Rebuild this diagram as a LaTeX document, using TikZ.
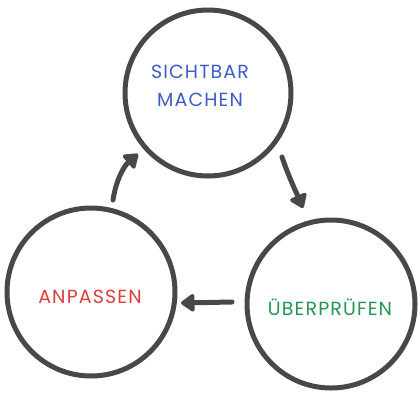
\documentclass[tikz,border=0pt]{standalone}
\usepackage{fontspec}
\setmainfont{Poppins}[LetterSpace=6]
\usetikzlibrary{arrows.meta}
\definecolor{ring}{RGB}{72,72,72}
\definecolor{tblue}{RGB}{62,92,200}
\definecolor{tred}{RGB}{222,62,62}
\definecolor{tgreen}{RGB}{34,150,82}
\begin{document}
\begin{tikzpicture}[x=1pt,y=-1pt,
  ring/.style={draw=ring,line width=5pt,circle,inner sep=0pt},
  lbl/.style={font=\fontsize{19}{28}\selectfont,align=center,inner sep=0pt},
  flow/.style={draw=ring,line width=5pt,line cap=round,-{Triangle[length=15pt,width=20pt,round]}}]
\useasboundingbox (0,0) rectangle (420,400);
\node[ring,minimum size=166pt] (top) at (208,93) {};
\node[ring,minimum size=168pt] (left) at (91,292) {};
\node[ring,minimum size=168pt] (right) at (331,304) {};
\node[lbl,text=tblue] (ttop) at (200,86) {SICHTBAR\\MACHEN};
\node[lbl,text=tred] (tleft) at (90,297) {ANPASSEN};
\node[lbl,text=tgreen] (tright) at (330,307) {ÜBERPRÜFEN};
\coordinate (a1s) at (113,200);
\coordinate (a1e) at (138,154);
\coordinate (a2s) at (282,157);
\coordinate (a2e) at (303,208);
\coordinate (a3s) at (232,302);
\coordinate (a3e) at (181,303);
\draw[flow] (a1s) .. controls (116,180) and (124,166) .. (a1e);
\draw[flow] (a2s) .. controls (288,175) and (296,192) .. (a2e);
\draw[flow] (a3s) -- (a3e);
\end{tikzpicture}
\end{document}
